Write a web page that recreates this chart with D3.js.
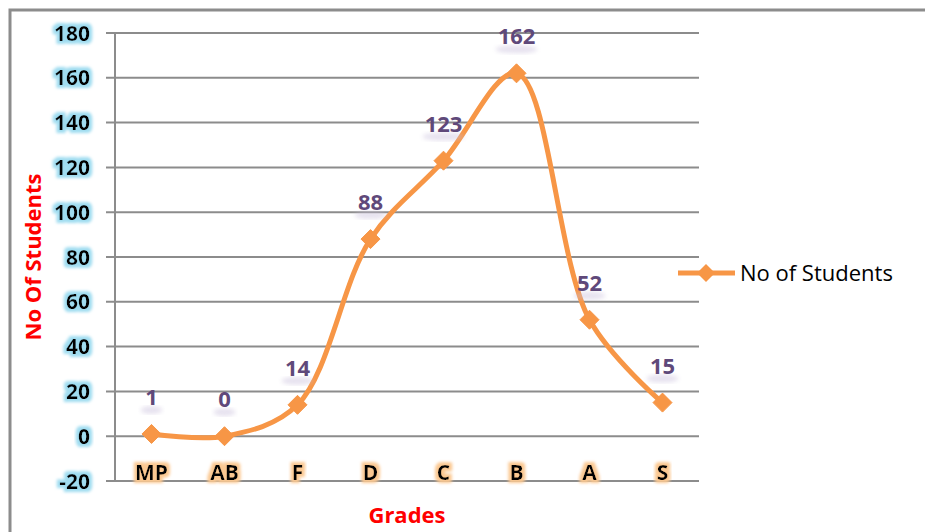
<!DOCTYPE html>
<html>
<head>
<meta charset="utf-8">
<title>No of Students by Grade</title>
<script src="https://cdn.jsdelivr.net/npm/d3@7/dist/d3.min.js"></script>
<style>
  body { margin: 0; background: #fff; }
  text { font-family: "Open Sans", "DejaVu Sans", sans-serif; }
</style>
</head>
<body>
<div id="root"></div>
<script>
// chart data
const grades = ["MP", "AB", "F", "D", "C", "B", "A", "S"];
const students = [1, 0, 14, 88, 123, 162, 52, 15];
const yTicks = [-20, 0, 20, 40, 60, 80, 100, 120, 140, 160, 180];
const seriesName = "No of Students";

const width = 925, height = 532;
const orange = "#f79646";

const svg = d3.select("#root").append("svg")
  .attr("width", width)
  .attr("height", height);

// glow filters for the labels
const defs = svg.append("defs");
function glow(id, color, radius, blur) {
  const f = defs.append("filter").attr("id", id)
    .attr("x", "-30%").attr("y", "-30%").attr("width", "160%").attr("height", "160%");
  f.append("feMorphology").attr("in", "SourceAlpha").attr("operator", "dilate").attr("radius", radius).attr("result", "d");
  f.append("feGaussianBlur").attr("in", "d").attr("stdDeviation", blur).attr("result", "b");
  f.append("feFlood").attr("flood-color", color).attr("result", "c");
  f.append("feComposite").attr("in", "c").attr("in2", "b").attr("operator", "in").attr("result", "g");
  const m = f.append("feMerge");
  m.append("feMergeNode").attr("in", "g");
  m.append("feMergeNode").attr("in", "SourceGraphic");
}
glow("blueGlow", "#9fdcf0", 2.5, 1.5);
glow("orangeGlow", "#fbc891", 2.5, 1.5);
defs.append("filter").attr("id", "soft")
  .append("feGaussianBlur").attr("stdDeviation", 2);

// outer chart border
svg.append("rect")
  .attr("x", 10).attr("y", 10)
  .attr("width", 930).attr("height", 540)
  .attr("fill", "none")
  .attr("stroke", "#8c8c8c")
  .attr("stroke-width", 3);

const plotL = 115, plotR = 699, plotT = 33, plotB = 481;

const x = d3.scaleBand().domain(grades).range([plotL, plotR]);
const y = d3.scaleLinear().domain([-20, 180]).range([plotB, plotT]);

// gridlines
svg.append("g").selectAll("line")
  .data(yTicks)
  .join("line")
  .attr("x1", plotL - 9).attr("x2", plotR)
  .attr("y1", d => y(d)).attr("y2", d => y(d))
  .attr("stroke", "#8c8c8c")
  .attr("stroke-width", 2);

// y axis line
svg.append("line")
  .attr("x1", plotL).attr("x2", plotL)
  .attr("y1", plotT).attr("y2", plotB)
  .attr("stroke", "#8c8c8c")
  .attr("stroke-width", 2);

// y tick labels
svg.append("g").selectAll("text")
  .data(yTicks)
  .join("text")
  .attr("x", 90)
  .attr("y", d => y(d))
  .attr("dy", "0.36em")
  .attr("text-anchor", "end")
  .attr("font-size", 21)
  .attr("font-weight", "bold")
  .attr("fill", "#000")
  .attr("filter", "url(#blueGlow)")
  .text(d => d);

// x category labels
svg.append("g").selectAll("text")
  .data(grades)
  .join("text")
  .attr("x", d => x(d) + x.bandwidth() / 2)
  .attr("y", 480)
  .attr("text-anchor", "middle")
  .attr("font-size", 21)
  .attr("font-weight", "bold")
  .attr("fill", "#000")
  .attr("filter", "url(#orangeGlow)")
  .text(d => d);

// smoothed line
const pts = grades.map((g, i) => [x(g) + x.bandwidth() / 2, y(students[i])]);
const line = d3.line().curve(d3.curveCatmullRom.alpha(0.5));
svg.append("path")
  .attr("d", line(pts))
  .attr("fill", "none")
  .attr("stroke", orange)
  .attr("stroke-width", 5)
  .attr("stroke-linejoin", "round")
  .attr("stroke-linecap", "round");

// diamond markers
const diamond = r => `M0,${-r}L${r},0L0,${r}L${-r},0Z`;
svg.append("g").selectAll("path")
  .data(pts)
  .join("path")
  .attr("transform", d => `translate(${d[0]},${d[1]})`)
  .attr("d", diamond(9.5))
  .attr("fill", orange)
  .attr("stroke", orange)
  .attr("stroke-width", 1);

// data labels with a faint blurred reflection under them
const labels = svg.append("g");
labels.selectAll("ellipse")
  .data(students)
  .join("ellipse")
  .attr("cx", (d, i) => pts[i][0])
  .attr("cy", (d, i) => pts[i][1] - 24)
  .attr("rx", d => 6 + String(d).length * 5)
  .attr("ry", 4)
  .attr("fill", "#c9bfdc")
  .attr("opacity", 0.45)
  .attr("filter", "url(#soft)");
labels.selectAll("text")
  .data(students)
  .join("text")
  .attr("x", (d, i) => pts[i][0])
  .attr("y", (d, i) => pts[i][1] - 29)
  .attr("text-anchor", "middle")
  .attr("font-size", 22)
  .attr("font-weight", "bold")
  .attr("fill", "#5f497a")
  .text(d => d);

// axis titles
svg.append("text")
  .attr("transform", "translate(41,257) rotate(-90)")
  .attr("text-anchor", "middle")
  .attr("font-size", 22)
  .attr("font-weight", "bold")
  .attr("fill", "#ff0000")
  .text("No Of Students");

svg.append("text")
  .attr("x", 407)
  .attr("y", 523)
  .attr("text-anchor", "middle")
  .attr("font-size", 22)
  .attr("font-weight", "bold")
  .attr("fill", "#ff0000")
  .text("Grades");

// legend
const lg = svg.append("g").attr("transform", "translate(678,273)");
lg.append("line")
  .attr("x1", 0).attr("x2", 57)
  .attr("stroke", orange).attr("stroke-width", 5);
lg.append("path")
  .attr("transform", "translate(28,0)")
  .attr("d", diamond(9))
  .attr("fill", orange);
lg.append("text")
  .attr("x", 62).attr("y", 0)
  .attr("dy", "0.35em")
  .attr("font-size", 22)
  .attr("fill", "#000")
  .text(seriesName);
</script>
</body>
</html>
